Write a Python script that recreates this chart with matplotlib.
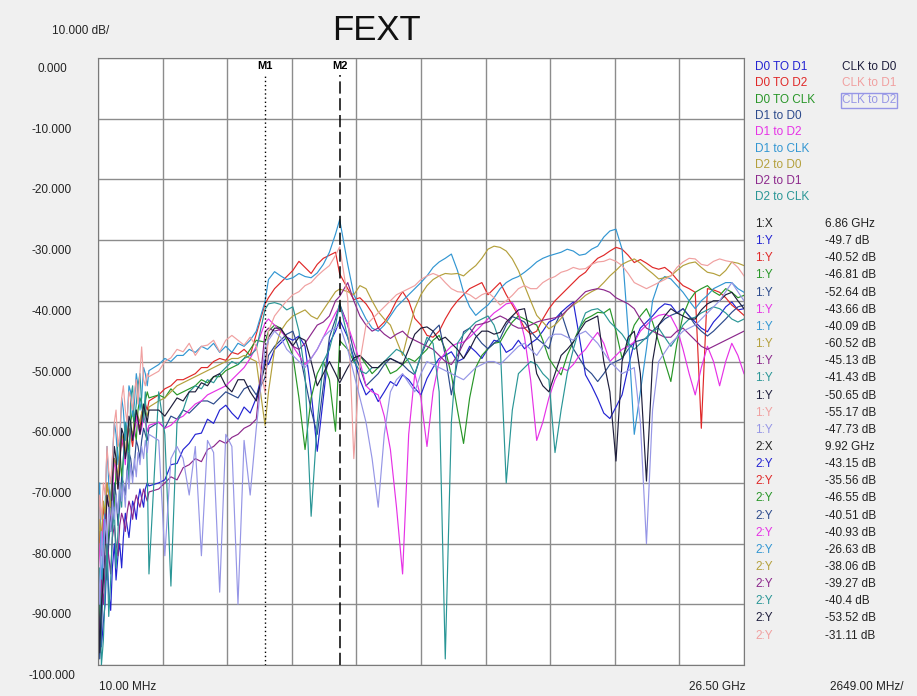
import matplotlib
matplotlib.use("Agg")
import matplotlib.pyplot as plt

plt.rcParams['font.family'] = ['Liberation Sans', 'DejaVu Sans']

# frequency points (GHz), shared by all traces
freq_ghz = [0.01, 0.08, 0.15, 0.23, 0.3, 0.38, 0.45, 0.53, 0.6, 0.68, 0.75, 0.83, 0.9, 0.98, 1.05,
            1.13, 1.2, 1.28, 1.35, 1.43, 1.5, 1.58, 1.65, 1.73, 1.8, 1.88, 1.95, 2.03, 2.1,
            2.5, 2.75, 3, 3.25, 3.5, 3.75, 4, 4.25, 4.5, 4.75, 5, 5.25, 5.5, 5.75, 6, 6.25, 6.5,
            6.86, 7, 7.25, 7.5, 7.75, 8, 8.25, 8.5, 8.75, 9, 9.25, 9.5, 9.75,
            9.92, 10.25, 10.5, 10.75, 11, 11.25, 11.5, 11.75, 12, 12.25, 12.5, 12.75, 13,
            13.25, 13.5, 13.75, 14, 14.25, 14.5, 14.75, 15, 15.25, 15.5, 15.75, 16, 16.25, 16.5, 16.75, 17,
            17.25, 17.5, 17.75, 18, 18.25, 18.5, 18.75, 19, 19.25, 19.5, 19.75, 20, 20.25, 20.5, 20.75, 21,
            21.25, 21.5, 21.75, 22, 22.25, 22.5, 22.75, 23, 23.25, 23.5, 23.75, 24, 24.25, 24.5, 24.75,
            25, 25.25, 25.5, 25.75, 26, 26.25, 26.5]

# FEXT traces (dB), same order as freq_ghz
d0_to_d1 = [-92, -85, -97, -93, -90, -82, -88, -91, -84, -80, -86, -82, -80, -84, -79,
            -75, -77, -79, -76, -73, -74, -76, -73, -71, -72.5, -74, -71, -70, -70.5,
            -70, -69.5, -67, -66.8, -64.5, -63.5, -62, -61.8, -59.5, -60.2, -58, -57.2, -58.5, -59.5, -57.5, -58.5, -56,
            -49.7, -50.5, -48, -47, -46, -46.5, -45.8, -47.5, -55, -64.8, -56, -47, -45,
            -43.15, -46, -49.4, -53, -55.5, -54.5, -56.6, -55, -53.3, -54, -52.2, -53, -54.4,
            -55.5, -52.8, -51, -49.5, -49, -48.4, -50, -49.5, -47.5, -48.4, -49.5, -47.9, -46.5, -46.8, -48.5, -47.9,
            -46.5, -47.9, -47, -46.3, -45, -43.5, -43, -41.9, -41, -40.2, -46, -52.2, -54, -56.1, -58.5, -59.4,
            -57.5, -55.5, -51, -46.8, -44.5, -43.5, -42.5, -41.3, -40.5, -40.7, -42, -41.3, -42.5, -43.5, -44.5,
            -45.1, -43.5, -42.4, -41, -40.2, -41.5, -41.3]
d0_to_d2 = [-85, -78, -80, -74, -76, -70, -72, -74, -70, -66, -68, -71, -66, -63, -64,
            -66, -63, -61, -62, -64, -61, -59, -60, -61, -58.5, -57.5, -57, -58, -56.5,
            -55.5, -54.5, -54, -53, -53, -52.5, -52, -51, -51, -50, -49.5, -49.8, -48.5, -48.8, -48, -49, -45.5,
            -40.52, -39.5, -38, -37, -36, -35, -33.5, -34.5, -35.5, -34, -33, -32.5, -32,
            -35.56, -38, -39.8, -39.5, -40.5, -42, -44.5, -43.5, -42, -40, -38.5, -40, -42.9,
            -44, -45.7, -46, -45, -43, -41.3, -40, -39, -38, -37.5, -37, -39, -38, -37, -39, -40.7,
            -42.5, -44.5, -45.5, -45, -43, -41.3, -40, -39, -38, -37, -36, -35.3, -34, -33, -32.5, -31.8,
            -31.2, -31.5, -32.5, -33.7, -33.2, -33.8, -34.5, -34.8, -34.5, -35.3, -36.5, -37.5, -38, -38.6, -61,
            -38, -38.2, -38.6, -39.5, -40.7, -41.5, -42.4]
d0_to_clk = [-82, -95, -90, -80, -76, -84, -78, -72, -70, -74, -68, -63, -64, -69, -66,
             -61, -62, -65, -60, -58, -61, -63, -58, -56, -57, -59, -56.5, -55, -56,
             -55.5, -56, -54.5, -55.5, -55, -54.5, -54, -53, -53.5, -52.5, -52.5, -51.5, -51, -50.5, -49.5, -48, -46.5,
             -46.81, -45, -44, -44.5, -46.5, -49, -56, -64.5, -56, -52, -50, -53, -61.5,
             -46.55, -48, -50, -49, -50.5, -52, -51, -50, -52, -51.5, -50.5, -49.5, -50,
             -49, -48, -46.5, -45.7, -48, -52.2, -58, -63.5, -56, -51, -49, -47.9, -47, -46.8, -45, -43.5,
             -42.5, -43, -43.5, -44, -46.5, -49.5, -51, -52.2, -49, -46.8, -44.5, -43, -42.5, -41.9, -42, -41.3,
             -45, -49.5, -47, -44, -42.5, -41.3, -43.5, -46.8, -50, -53.3, -47, -42.4, -40, -38.6, -38,
             -37.5, -38.5, -39.1, -38, -38.6, -39.5, -39.1]
d1_to_d0 = [-88, -99, -95, -84, -82, -86, -80, -76, -78, -70, -72, -77, -74, -69, -70,
            -72, -68, -65, -66, -69, -67, -63, -64, -66, -63, -61, -62, -63, -61,
            -60, -61, -59, -59.5, -58, -58.5, -57.5, -56.5, -56.5, -57, -56, -55, -55.5, -56, -54.5, -54, -55.5,
            -52.64, -49, -47.5, -46.5, -45.5, -45, -48, -53, -58, -62, -54, -46, -43,
            -40.51, -44, -48.4, -51, -54, -53, -52, -50.5, -49.5, -50, -50.5, -51.5, -52.2,
            -49, -46.8, -45, -44, -49, -55.5, -50, -45.1, -44.5, -45.7, -47, -47.9, -47, -46.2, -44, -42.6,
            -43, -43.5, -45, -46.2, -47, -47.9, -44, -41.9, -45, -47.9, -49.5, -51.1, -52, -53.3, -52, -50.5,
            -50, -49.5, -48, -46.8, -46.5, -46.2, -45, -44, -43, -42.4, -42, -41.3, -42.5, -44, -45,
            -45.8, -45, -44, -43, -41.9, -41, -40.7]
d1_to_d2 = [-86, -80, -82, -76, -80, -72, -74, -77, -72, -66, -68, -70, -66, -62, -64,
            -67, -62, -60, -61, -63, -62, -59, -60.5, -62, -61, -59, -60, -61.5, -60.5,
            -60, -61, -60.5, -59.5, -59, -58, -57, -56.5, -55.5, -55, -54.5, -54, -53, -52, -51, -49.5, -47.5,
            -43.66, -43, -44, -45, -46, -47.5, -49, -50.5, -49.5, -48, -46, -44, -42,
            -40.93, -44, -47, -50, -54, -55, -55.5, -59, -64.5, -74, -85, -62, -52,
            -56, -64, -55, -50, -48.5, -47.5, -47, -46.8, -46, -45, -44, -43, -42, -41.3, -40.5, -40.3,
            -42, -46, -53, -63, -60, -56, -53, -51, -51.5, -50.5, -49, -48, -46.5, -45.2, -47, -50,
            -49, -48, -47.5, -46.8, -45, -44, -43, -42.4, -42.2, -42.6, -44.5, -48, -52, -55.5, -51,
            -47.5, -50, -54, -50, -47, -49, -52]
d1_to_clk = [-78, -70, -88, -80, -74, -64, -70, -74, -66, -60, -62, -67, -64, -56, -58,
             -63, -60, -54, -55, -59, -57, -52, -54, -58, -56, -51, -52, -54, -51.5,
             -50.5, -49.5, -50, -49, -49, -48, -48.5, -47.5, -48, -47, -48.5, -47.5, -48.5, -47, -47.5, -46.5, -45,
             -40.09, -36.5, -35.2, -35.9, -36.5, -36.2, -35.5, -36, -36.2, -35.4, -34, -32, -29,
             -26.63, -34, -39, -41, -43, -44.5, -45, -44, -42.5, -41, -40, -39, -38,
             -37, -35.9, -34.5, -33.6, -33, -32.3, -35, -38.6, -41, -42.4, -41.5, -40.7, -39.5, -38, -37, -36.4,
             -36, -35.3, -34.5, -33.6, -33, -32.6, -32.3, -32, -31.5, -31.8, -32.5, -32.3, -31.5, -31, -29.5, -28.5,
             -28.2, -31.5, -45, -62, -55, -47.9, -40, -37, -36, -36.4, -37.5, -38.6, -40, -41.3, -40,
             -39.1, -38, -37.5, -37, -37, -38, -38.6]
d2_to_d0 = [-84, -76, -79, -73, -75, -70, -72, -74, -69, -66, -67, -69, -65, -62, -63,
            -65, -62, -60, -61, -62, -60, -58, -59, -60, -58.5, -57.5, -58, -59, -57.5,
            -56.5, -56, -55, -54, -53.5, -53, -52.5, -52, -51.5, -51, -50.5, -50, -49.5, -49.5, -49, -49.5, -50,
            -60.52, -55, -48, -45, -43.5, -42.5, -42, -41.5, -42.5, -43, -41.5, -40, -38.5,
            -38.06, -38.5, -39, -37.5, -38, -40, -41.8, -43, -44, -46.5, -49, -45, -41.3,
            -39, -37.5, -36.5, -35.9, -35.5, -35.6, -35.5, -35.9, -35, -34.2, -33, -31.5, -31, -31.2, -31.8, -33.1,
            -35, -37.5, -40, -42.4, -43.5, -44.6, -44, -42.9, -41.5, -40.7, -40, -39.1, -38.5, -38, -37, -35.9,
            -35, -34, -33.5, -33.1, -33.8, -34.7, -35.5, -36.4, -36.2, -35.9, -35, -34.2, -33.8, -33.6, -34.5,
            -35.3, -35.5, -35.9, -35, -33.6, -33.8, -34.2]
d2_to_d1 = [-90, -96, -86, -90, -84, -80, -82, -85, -79, -77, -80, -82, -77, -75, -76,
            -78, -75, -73, -74, -76, -73.5, -72, -73, -74, -72.5, -71, -72, -73, -71.5,
            -71, -70, -69, -69.5, -67.5, -67, -66, -66.5, -64.5, -64, -63, -63.5, -62.5, -62, -61, -60.5, -59.5,
            -45.13, -44.5, -45, -44.7, -46, -47.5, -48, -47, -45.5, -44, -43.5, -42.5, -40,
            -39.27, -37, -40, -42.5, -44, -45, -44.5, -45.5, -46.2, -45.5, -45, -46, -46.5,
            -47, -47.5, -48, -49, -50, -50.5, -49, -47, -45.5, -44, -43.8, -43.5, -43, -42.5, -43, -44,
            -44.5, -44.5, -44, -43.5, -43.2, -43, -42.8, -42.5, -41.5, -40.5, -39.5, -38.5, -38.2, -38, -38.2, -38.6,
            -39.5, -40, -40.5, -41.3, -43, -44.5, -45, -45.5, -46, -46, -45, -44.5, -45.5, -46.5, -47.5,
            -48, -47.5, -47, -46.5, -46, -45.5, -45]
d2_to_clk = [-94, -84, -100, -96, -88, -80, -92, -86, -78, -74, -84, -78, -70, -74, -66,
             -60, -62, -70, -56, -54, -60, -57, -54, -52, -57, -60, -55, -68, -85,
             -55, -62, -87, -60, -58, -55, -54, -54.5, -53, -53.5, -52, -51, -50, -50.5, -49.5, -49, -48,
             -41.43, -40.5, -40.3, -40.6, -41.5, -41, -45, -52, -75.5, -60, -50, -48, -44,
             -40.4, -46, -50, -51.5, -52, -51, -51, -50, -49, -48, -48.5, -50, -52,
             -49, -46, -47, -55, -99, -60, -47, -45.5, -44.5, -43.5, -43, -42.5, -44, -47, -70, -58,
             -52, -51, -50, -50.5, -52, -53, -65, -58, -52, -48, -44.5, -42, -41.5, -41.3, -42, -43.5,
             -44.5, -45.5, -47, -48, -47, -46, -45, -44.5, -46, -47.5, -46, -44, -43, -42.7, -42,
             -41.5, -41, -41.3, -42, -43, -43.5, -43]
clk_to_d0 = [-84, -98, -90, -86, -80, -72, -74, -78, -70, -64, -66, -71, -68, -61, -62,
             -66, -64, -59, -60, -63, -61, -58, -59.5, -62, -60, -57, -58.5, -60, -58,
             -58, -59, -57.5, -56, -56.5, -55, -55, -53.5, -54, -52.5, -52, -54, -55, -53, -53, -55, -56.5,
             -50.65, -46, -44.5, -44.5, -46, -47.4, -46, -46.5, -50, -54, -52, -50, -52,
             -53.52, -51, -49.4, -49, -50, -51, -51, -50, -49.5, -50, -50.5, -48, -45.5,
             -44.5, -44.3, -45, -46.5, -46, -47, -48, -49.5, -48, -46, -45, -45, -45.5, -45.2, -43.5, -42.5,
             -41.5, -41.3, -46, -52, -54, -55, -52, -49, -48, -46.8, -45, -43.5, -43, -42.5, -50, -55,
             -66.4, -50, -46, -45, -52, -69.7, -50, -44, -42.5, -41.3, -42, -42.5, -43, -43, -41.5,
             -40.5, -40, -40, -39, -38.6, -40, -41.3]
clk_to_d1 = [-80, -72, -76, -70, -72, -64, -68, -70, -66, -60, -58, -64, -62, -56, -54,
             -58, -60, -55, -56, -58, -55, -53, -57, -52, -47.6, -53, -54, -52, -52.5,
             -51.6, -50, -49.4, -48, -48.4, -47, -49, -47.5, -47.3, -46.5, -48.4, -46.5, -45.7, -46.5, -47.3, -46, -47.5,
             -55.17, -45, -42.5, -41.2, -40, -39, -38.5, -37.5, -37, -35.9, -35, -34.2, -32.5,
             -31.11, -39.6, -66, -50, -44, -43, -42, -41, -40, -39, -38.5, -38, -37.5,
             -36.5, -35.9, -35.5, -35.9, -37, -38, -38.5, -38.6, -39, -39.7, -39, -38.6, -39.5, -40.7, -40, -39.1,
             -38, -37.5, -38, -38, -37, -36.4, -36, -35.3, -35, -34.5, -34.8, -34.7, -34, -33.6, -33.5, -33.1,
             -33.5, -34.2, -35.5, -37, -37.5, -38, -37.5, -37, -36.5, -35.9, -34.5, -33.6, -33, -33.1, -34,
             -34.2, -33.5, -33.1, -33.4, -33.6, -34.5, -35.9]
clk_to_d2 = [-82, -90, -78, -84, -76, -80, -74, -78, -73, -76, -72, -75, -70, -73, -70,
             -74, -68, -71, -67, -70, -66, -69, -65, -67, -64, -66, -63, -65, -62,
             -63, -82, -66, -64, -66, -72, -64, -82, -63, -65, -88, -62, -64, -90, -63, -72, -61,
             -47.73, -46.5, -45, -46, -48, -49, -50, -51, -49.5, -48, -46, -45, -44.5,
             -44, -48, -52, -56, -60, -66, -74, -62, -55, -53, -52, -53.5, -55,
             -52, -50, -50.5, -51, -51.5, -52, -52.5, -53, -52, -51, -50.5, -50, -50, -50.5, -49.5, -48.5,
             -47.5, -47, -48, -49, -47.5, -46, -45.5, -45.5, -46, -46.5, -45.5, -45, -46, -47, -48.5, -50,
             -51, -52, -51.5, -51, -60, -80, -58, -50, -48.5, -47, -46, -45, -44.5, -44, -43,
             -42, -41, -40, -38.5, -37, -38.5, -40]

trace_names = ["D0 TO D1", "D0 TO D2", "D0 TO CLK", "D1 to D0", "D1 to D2", "D1 to CLK",
               "D2 to D0", "D2 to D1", "D2 to CLK", "CLK to D0", "CLK to D1", "CLK to D2"]
trace_colors = ['#2323d2', '#e02828', '#289628', '#2c4a8c', '#e632e6', '#3296d2',
                '#b4a03c', '#8c288c', '#2a9696', '#1e1e3c', '#f0a0a0', '#9696e6']
traces = [d0_to_d1, d0_to_d2, d0_to_clk, d1_to_d0, d1_to_d2, d1_to_clk,
          d2_to_d0, d2_to_d1, d2_to_clk, clk_to_d0, clk_to_d1, clk_to_d2]

# marker readouts
m1_freq = 6.86
m2_freq = 9.92
m1_vals = ["-49.7", "-40.52", "-46.81", "-52.64", "-43.66", "-40.09", "-60.52",
           "-45.13", "-41.43", "-50.65", "-55.17", "-47.73"]
m2_vals = ["-43.15", "-35.56", "-46.55", "-40.51", "-40.93", "-26.63", "-38.06",
           "-39.27", "-40.4", "-53.52", "-31.11"]

W, H = 917, 696
fig = plt.figure(figsize=(W / 100, H / 100), dpi=100)
fig.patch.set_facecolor('#f0f0f0')


def px(x, y):
    return x / W, 1 - y / H


ax = fig.add_axes([98 / W, 31 / H, 646 / W, 607 / H])
ax.set_facecolor('white')

for vals, col in zip(traces, trace_colors):
    ax.plot(freq_ghz, vals, color=col, lw=0.85)

ax.set_xlim(0.01, 26.5)
ax.set_ylim(-100, 0)
ax.set_xticks([0.01 + i * 2.649 for i in range(11)])
ax.set_yticks(range(-100, 1, 10))
ax.grid(True, color='#8c8c8c', lw=1)
ax.set_axisbelow(True)
ax.tick_params(length=0, labelbottom=False, labelleft=False)
for s in ax.spines.values():
    s.set_color('#7a7a7a')

# markers
ax.plot([m1_freq, m1_freq], [-100, -2.8], color='black', lw=1, ls=(0, (1, 2)))
ax.plot([m2_freq, m2_freq], [-100, -2.8], color='black', lw=1.1, ls=(0, (8, 3)))
trans = ax.get_xaxis_transform()
ax.text(m1_freq, 0.986, "M1", transform=trans, ha='center', va='center', fontsize=8, fontweight='bold')
ax.text(m2_freq, 0.986, "M2", transform=trans, ha='center', va='center', fontsize=8, fontweight='bold')

# header / axis texts
fs = 8.5
fig.text(*px(81, 31), "10.000 dB/", ha='center', va='center', fontsize=fs, color='#222222')
fig.text(*px(376, 31), "FEXT", ha='center', va='center', fontsize=25, color='#111111')
for i, v in enumerate(range(0, -101, -10)):
    fig.text(*px(52, 69 + i * 60.7), "%.3f" % v, ha='center', va='center', fontsize=fs, color='#222222')
fig.text(*px(128, 687), "10.00 MHz", ha='center', va='center', fontsize=fs, color='#222222')
fig.text(*px(717, 687), "26.50 GHz", ha='center', va='center', fontsize=fs, color='#222222')
fig.text(*px(867, 687), "2649.00 MHz/", ha='center', va='center', fontsize=fs, color='#222222')

# trace list
for i, (name, col) in enumerate(zip(trace_names, trace_colors)):
    if i < 9:
        x, y = 755, 67 + i * 16.3
    else:
        x, y = 842, 67 + (i - 9) * 16.3
    fig.text(*px(x, y), name, ha='left', va='center', fontsize=fs, color=col)
box = plt.Rectangle(px(841, 108), 56 / W, 15 / H, transform=fig.transFigure,
                    fill=False, edgecolor=trace_colors[11], lw=1)
fig.add_artist(box)

# marker table
step = 17.15
fig.text(*px(755, 224), "1:X", ha='left', va='center', fontsize=fs, color='#222222')
fig.text(*px(825, 224), "%.2f GHz" % m1_freq, ha='left', va='center', fontsize=fs, color='#222222')
for i, v in enumerate(m1_vals):
    y = 224 + (i + 1) * step
    fig.text(*px(755, y), "1:Y", ha='left', va='center', fontsize=fs, color=trace_colors[i])
    fig.text(*px(825, y), v + " dB", ha='left', va='center', fontsize=fs, color='#222222')
y0 = 224 + 13 * step
fig.text(*px(755, y0), "2:X", ha='left', va='center', fontsize=fs, color='#222222')
fig.text(*px(825, y0), "%.2f GHz" % m2_freq, ha='left', va='center', fontsize=fs, color='#222222')
for i, v in enumerate(m2_vals):
    y = y0 + (i + 1) * step
    fig.text(*px(755, y), "2:Y", ha='left', va='center', fontsize=fs, color=trace_colors[i])
    fig.text(*px(825, y), v + " dB", ha='left', va='center', fontsize=fs, color='#222222')

fig.savefig("out.png", dpi=100, facecolor=fig.get_facecolor())
